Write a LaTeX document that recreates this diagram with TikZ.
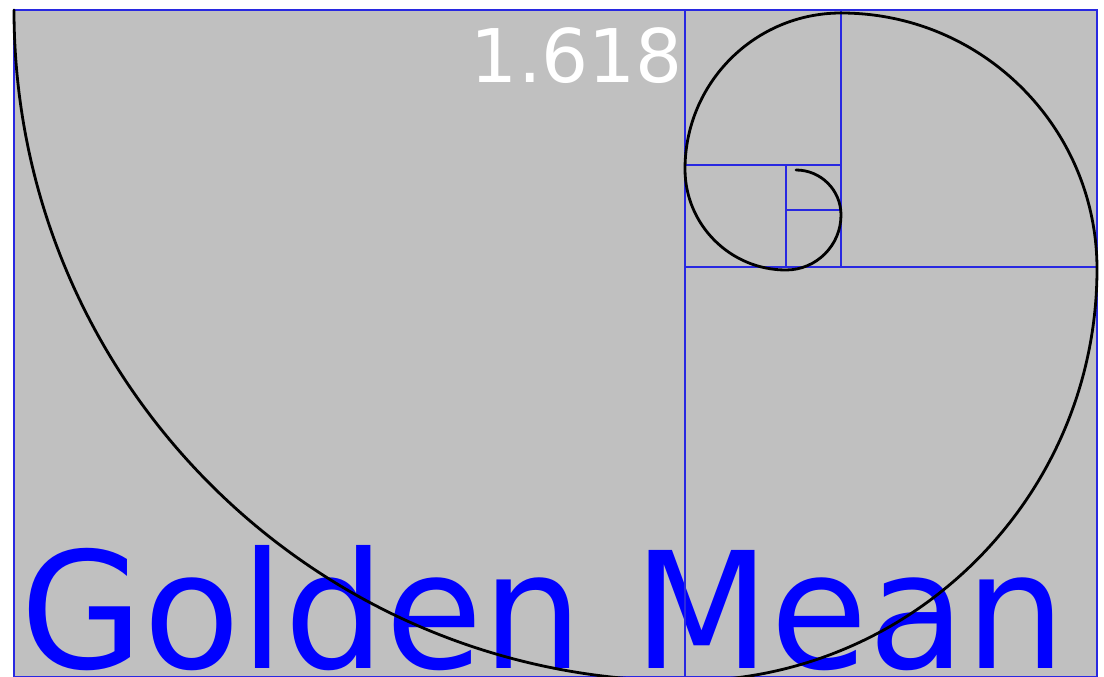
\documentclass[tikz,border=0pt]{standalone}
\usepackage{fontspec}
\setmainfont{DejaVu Sans}
\definecolor{bg}{RGB}{192,192,192}
\definecolor{gridblue}{RGB}{40,40,225}
\definecolor{txtblue}{RGB}{0,0,255}
\begin{document}
\begin{tikzpicture}[x=1pt,y=-1pt,
  gridline/.style={draw=gridblue,line width=1.5pt},
  spiral/.style={draw=black,line width=2.8pt},
  title/.style={inner sep=0pt,text=txtblue,font=\fontsize{162}{162}\selectfont},
  ratio/.style={inner sep=0pt,text=white,font=\fontsize{74}{74}\selectfont}]
\useasboundingbox (0,0) rectangle (1104,677);
\fill[bg] (14,10) rectangle (1097,677);
\node[title,anchor=base west] (gm) at (20,668) {\scalebox{0.98}[1]{Golden Mean}};
\node[ratio,anchor=base east] (phi) at (683,82) {1.618};
\draw[gridline] (14,10) rectangle (1097,677);
\draw[gridline] (685,10) -- (685,677);
\draw[gridline] (685,267) -- (1097,267);
\draw[gridline] (841,10) -- (841,267);
\draw[gridline] (685,165) -- (841,165);
\draw[gridline] (786,165) -- (786,267);
\draw[gridline] (786,210) -- (841,210);
\draw[spiral,line cap=round]
  (14,10) arc[start angle=180,end angle=90,radius=671]
  arc[start angle=90,end angle=0,radius=412]
  arc[start angle=0,end angle=-90,radius=256]
  arc[start angle=-90,end angle=-180,radius=156]
  arc[start angle=180,end angle=90,radius=101]
  arc[start angle=90,end angle=0,radius=55]
  arc[start angle=0,end angle=-90,radius=45];
\end{tikzpicture}
\end{document}
